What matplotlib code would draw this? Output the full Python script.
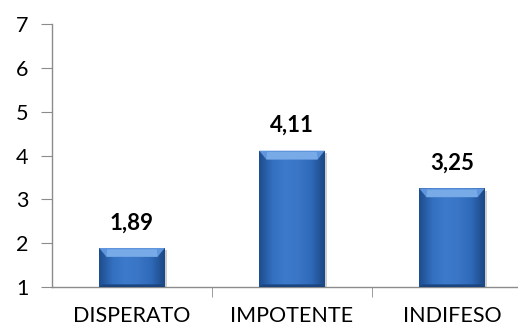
import numpy as np
import matplotlib.pyplot as plt
from matplotlib.colors import LinearSegmentedColormap

plt.rcParams['font.family'] = ['Lato', 'DejaVu Sans']

categories = ['DISPERATO', 'IMPOTENTE', 'INDIFESO']
values = [1.89, 4.11, 3.25]
value_labels = ['1,89', '4,11', '3,25']
y_ticks = [1, 2, 3, 4, 5, 6, 7]

fig = plt.figure(figsize=(5.18, 3.28), dpi=100)
ax = fig.add_axes([52 / 518, 41 / 328, 480 / 518, 263 / 328])

base = 1
width = 0.41
x = np.arange(len(categories))

# horizontal shading across the bar, darker towards the sides
side = LinearSegmentedColormap.from_list(
    'side', ['#1d4d8e', '#3470c0', '#3d7acb', '#3a75c6', '#2f69b8', '#1b4886'])
grad = np.linspace(0, 1, 64).reshape(1, -1)

bars = ax.bar(x, np.array(values) - base, width=width, bottom=base,
              color='none', edgecolor='none', zorder=3)
for rect, v in zip(bars, values):
    x0, w = rect.get_x(), rect.get_width()
    im = ax.imshow(grad, cmap=side, aspect='auto', interpolation='bicubic',
                   extent=[x0, x0 + w, base, v], zorder=3)
    im.set_clip_path(rect)
    # light bevel on the top edge
    bevel = 0.2
    inset = 0.045
    ax.fill([x0, x0 + w, x0 + w - inset, x0 + inset],
            [v, v, v - bevel, v - bevel], color='#5f95dc', zorder=4, lw=0)
    ax.fill([x0 + 0.05, x0 + w - 0.05, x0 + w - inset, x0 + inset],
            [v - 0.03, v - 0.03, v - bevel, v - bevel],
            color='#78aae8', zorder=4, lw=0)
    # darker bottom edge
    ax.fill([x0, x0 + w, x0 + w - 0.02, x0 + 0.02],
            [base, base, base + 0.06, base + 0.06],
            color='#1b4580', zorder=4, lw=0)
    # soft shadow to the right
    ax.fill([x0 + w, x0 + w + 0.015, x0 + w + 0.015, x0 + w],
            [base, base, v - 0.05, v - 0.05], color='#cfcfcf', zorder=2, lw=0)

for xi, v, lab in zip(x, values, value_labels):
    ax.text(xi, v + 0.57, lab, ha='center', va='center',
            fontsize=16, fontweight='bold', color='black')

ax.set_xlim(-0.5, 2.5)
ax.set_ylim(1, 7)
ax.set_yticks(y_ticks)
ax.set_xticks(x)
ax.set_xticklabels(categories)
ax.set_xticks([0.5, 1.5], minor=True)

for s in ['top', 'right']:
    ax.spines[s].set_visible(False)
for s in ['left', 'bottom']:
    ax.spines[s].set_color('#8c8c8c')
    ax.spines[s].set_linewidth(1)

ax.tick_params(axis='y', length=8, color='#8c8c8c', labelsize=15.5, pad=9)
ax.tick_params(axis='x', which='major', length=0, labelsize=15.5, pad=14)
ax.tick_params(axis='x', which='minor', length=7, color='#8c8c8c')

fig.savefig('out.png', dpi=100)
